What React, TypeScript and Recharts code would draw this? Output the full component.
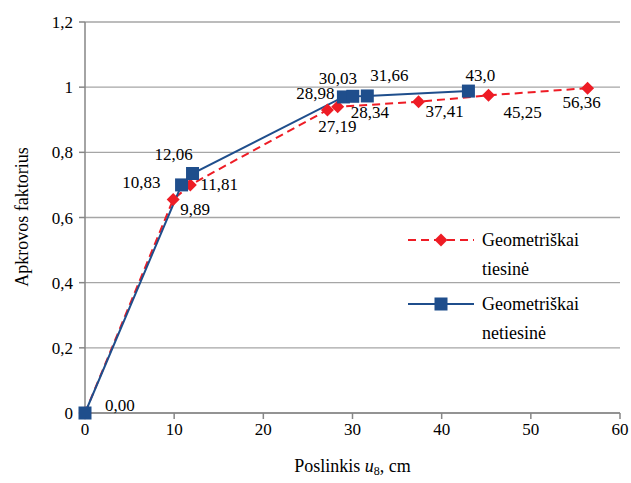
import { LineChart, Line, XAxis, YAxis, CartesianGrid, LabelList } from 'recharts'

const RED  = '#ee1c25'
const BLUE = '#1f4e8c'
const GRID = '#a6a6a6'
const FONT = "'Times New Roman', 'Liberation Serif', 'DejaVu Serif', serif"

// Geometriškai tiesinė
const linearX      = [0, 9.89, 11.81, 27.19, 28.34, 37.41, 45.25, 56.36]
const linearY      = [0, 0.655, 0.70, 0.93, 0.94, 0.955, 0.975, 0.997]
const linearLabels = ['', '9,89', '11,81', '27,19', '28,34', '37,41', '45,25', '56,36']

// Geometriškai netiesinė
const nonlinearX      = [0, 10.83, 12.06, 28.98, 30.03, 31.66, 43.0]
const nonlinearY      = [0, 0.70, 0.735, 0.97, 0.972, 0.973, 0.988]
const nonlinearLabels = ['0,00', '10,83', '12,06', '28,98', '30,03', '31,66', '43,0']

const xTicks = [0, 10, 20, 30, 40, 50, 60]
const yTicks = [0, 0.2, 0.4, 0.6, 0.8, 1, 1.2]

// label placement per point: [dx, dy, anchor]
const linearPlace: [number, number, string][] = [
  [0, 0, 'start'], [7, 10, 'start'], [10, 0, 'start'], [10, 17, 'middle'],
  [13, 6, 'start'], [7, 10, 'start'], [15, 17, 'start'], [-6, 14, 'middle'],
]
const nonlinearPlace: [number, number, string][] = [
  [20, -8, 'start'], [-21, -2, 'end'], [-19, -19, 'middle'], [-9, -3, 'end'],
  [-15, -18, 'middle'], [3, -20, 'start'], [12, -16, 'middle'],
]

const linearData = linearX.map((x, i) => ({ x, y: linearY[i], label: linearLabels[i] }))
const nonlinearData = nonlinearX.map((x, i) => ({ x, y: nonlinearY[i], label: nonlinearLabels[i] }))

const comma = (v: number) => String(v).replace('.', ',')

function Diamond(props: any) {
  const { cx, cy, index } = props
  if (cx == null || cy == null) return null
  const r = 6.5
  return (
    <path
      key={`dm${index}`}
      d={`M${cx},${cy - r}L${cx + r},${cy}L${cx},${cy + r}L${cx - r},${cy}Z`}
      fill={RED}
    />
  )
}

function Square(props: any) {
  const { cx, cy, index } = props
  if (cx == null || cy == null) return null
  const s = 6.5
  return <rect key={`sq${index}`} x={cx - s} y={cy - s} width={s * 2} height={s * 2} fill={BLUE} />
}

function pointLabel(place: [number, number, string][]) {
  return (p: any) => {
    const { x, y, index, value } = p
    if (!value) return null
    const [dx, dy, anchor] = place[index]
    return (
      <text
        x={x + dx}
        y={y + dy}
        textAnchor={anchor as any}
        dominantBaseline="central"
        style={{ fontFamily: FONT, fontSize: 17, fill: '#000' }}
      >
        {value}
      </text>
    )
  }
}

function ChartLegend() {
  const text = { fontFamily: FONT, fontSize: 18, color: '#000', lineHeight: '29px' }
  return (
    <div style={{ position: 'absolute', left: 406, top: 226, width: 220 }}>
      <div style={{ display: 'flex', alignItems: 'flex-start', marginBottom: 6 }}>
        <svg width={70} height={29} style={{ flex: 'none' }}>
          <line x1={2} y1={14} x2={68} y2={14} stroke={RED} strokeWidth={2} strokeDasharray="8 5" />
          <path d="M35,7.5L41.5,14L35,20.5L28.5,14Z" fill={RED} />
        </svg>
        <div style={{ ...text, marginLeft: 6 }}>Geometriškai<br />tiesinė</div>
      </div>
      <div style={{ display: 'flex', alignItems: 'flex-start' }}>
        <svg width={70} height={29} style={{ flex: 'none' }}>
          <line x1={2} y1={14} x2={68} y2={14} stroke={BLUE} strokeWidth={2} />
          <rect x={28.5} y={7.5} width={13} height={13} fill={BLUE} />
        </svg>
        <div style={{ ...text, marginLeft: 6 }}>Geometriškai<br />netiesinė</div>
      </div>
    </div>
  )
}

export default function App() {
  return (
    <div style={{ position: 'fixed', left: 0, top: 0, width: 631, height: 483, background: '#fff' }}>
      <LineChart width={631} height={483} margin={{ top: 22, right: 11, bottom: 40, left: 0 }}>
        <CartesianGrid vertical={false} stroke={GRID} strokeWidth={1.3} />
        <XAxis
          type="number"
          dataKey="x"
          domain={[0, 60]}
          ticks={xTicks}
          height={30}
          stroke="#868686"
          strokeWidth={1.5}
          tickSize={6}
          tick={{ style: { fontFamily: FONT, fontSize: 17, fill: '#000' } } as any}
          tickMargin={4}
          label={{
            content: (p: any) => {
              const vb = p.viewBox
              return (
                <text
                  x={vb.x + vb.width / 2}
                  y={466}
                  textAnchor="middle"
                  dominantBaseline="central"
                  style={{ fontFamily: FONT, fontSize: 18, fill: '#000' }}
                >
                  Poslinkis <tspan fontStyle="italic">u</tspan>
                  <tspan fontSize={12} dy={5}>8</tspan>
                  <tspan dy={-5}>, cm</tspan>
                </text>
              )
            },
          }}
        />
        <YAxis
          type="number"
          dataKey="y"
          domain={[0, 1.2]}
          ticks={yTicks}
          width={85}
          stroke="#868686"
          strokeWidth={1.5}
          tickSize={6}
          tickFormatter={comma}
          tick={{ style: { fontFamily: FONT, fontSize: 17, fill: '#000' } } as any}
          tickMargin={6}
          label={{
            content: () => (
              <text
                x={22}
                y={217}
                transform="rotate(-90 22 217)"
                textAnchor="middle"
                dominantBaseline="central"
                style={{ fontFamily: FONT, fontSize: 18, fill: '#000' }}
              >
                Apkrovos faktorius
              </text>
            ),
          }}
        />
        <Line
          data={linearData}
          dataKey="y"
          name="Geometriškai tiesinė"
          stroke={RED}
          strokeWidth={2}
          strokeDasharray="8 5"
          dot={Diamond}
          activeDot={false}
          isAnimationActive={false}
        >
          <LabelList dataKey="label" content={pointLabel(linearPlace)} />
        </Line>
        <Line
          data={nonlinearData}
          dataKey="y"
          name="Geometriškai netiesinė"
          stroke={BLUE}
          strokeWidth={2}
          dot={Square}
          activeDot={false}
          isAnimationActive={false}
        >
          <LabelList dataKey="label" content={pointLabel(nonlinearPlace)} />
        </Line>
      </LineChart>
      <ChartLegend />
    </div>
  )
}
